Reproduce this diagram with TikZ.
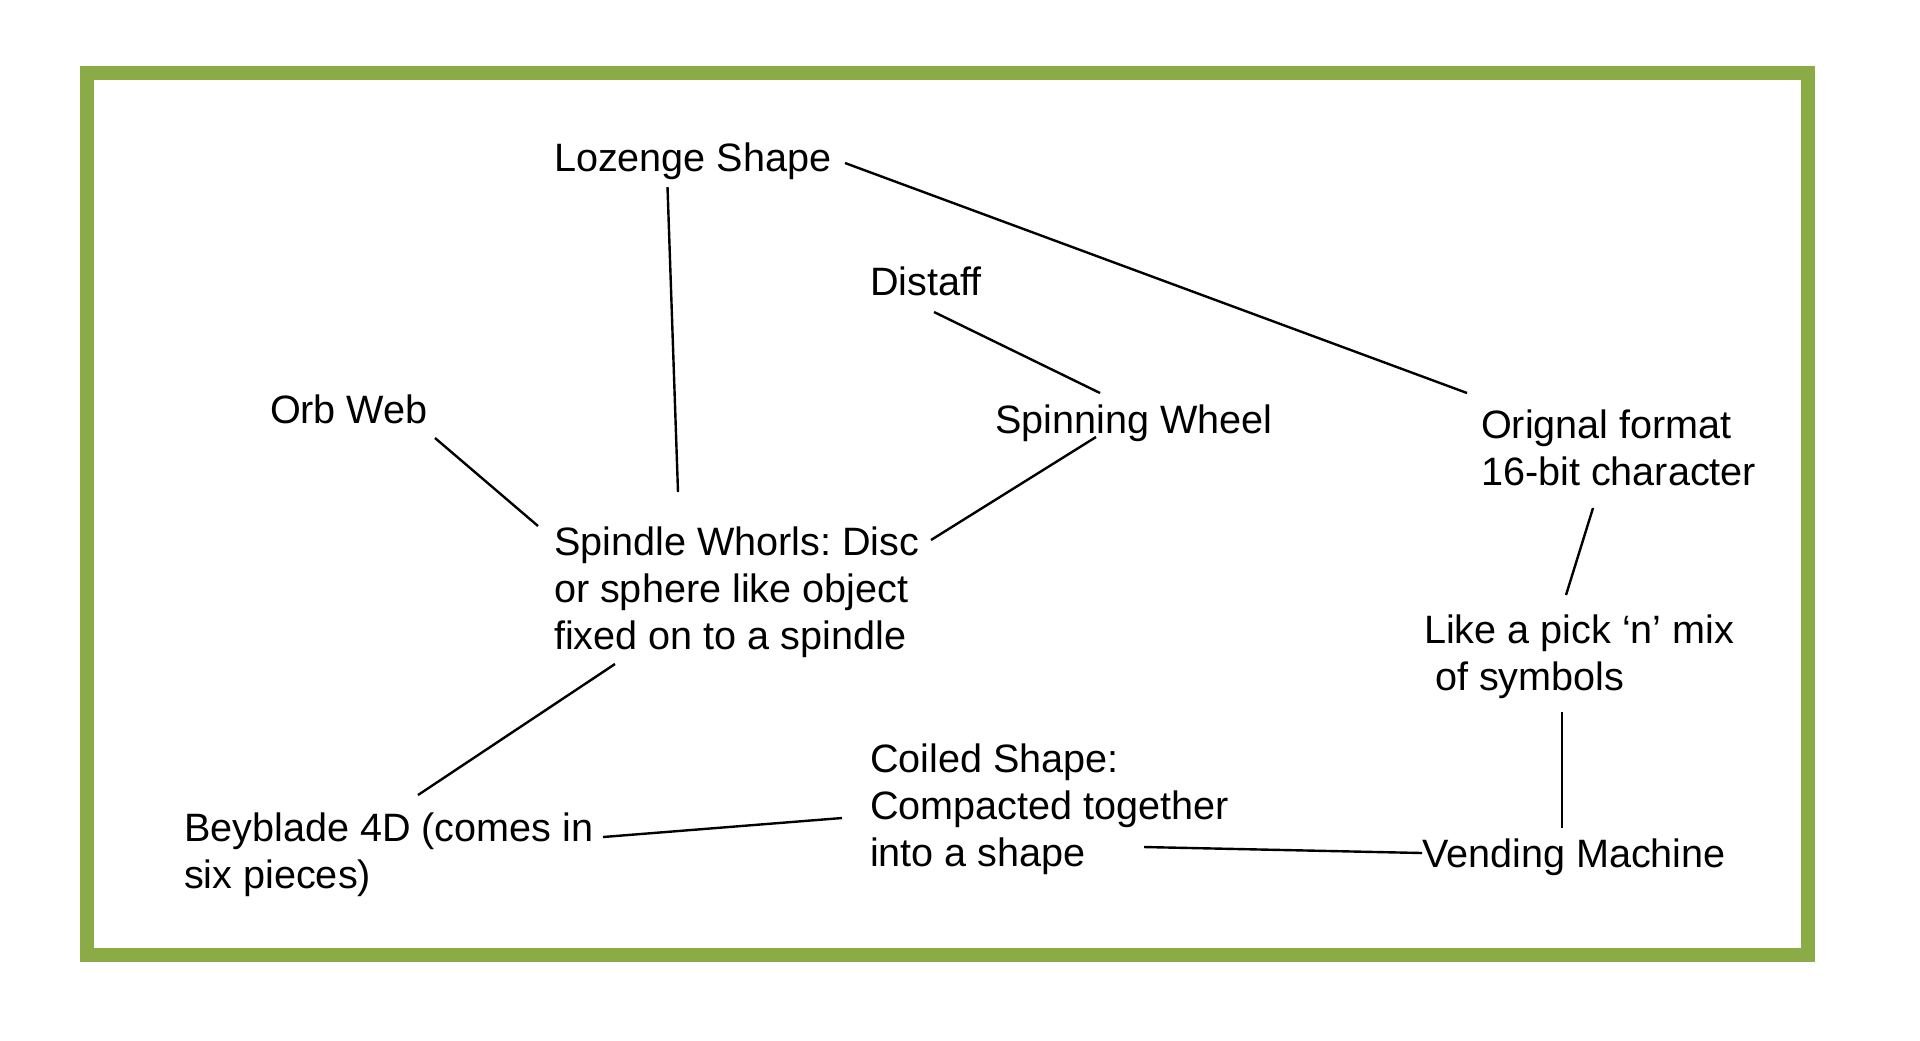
\documentclass[tikz,border=0pt]{standalone}
\usepackage{fontspec}
\setmainfont{Liberation Sans}
\frenchspacing
\definecolor{framegreen}{RGB}{139,171,70}
\newcommand{\mlines}[1]{\vtop{\halign{##\hfil\cr#1\crcr}}}
\tikzset{
  lbl/.style={anchor=base west, inner sep=0pt, outer sep=0pt, font=\fontsize{19.8}{23.5}\selectfont, text=black},
  link/.style={draw=black, line width=1.2pt}
}
\begin{document}
\begin{tikzpicture}[x=0.5pt,y=-0.5pt]
\useasboundingbox (0,0) rectangle (1920,1040);
\fill[white] (0,0) rectangle (1920,1040);
\draw[framegreen, line width=7pt] (87,73) rectangle (1808,955);

\node[lbl] (lozenge) at (554,171) {Lozenge Shape};
\node[lbl] (distaff) at (870,295) {Distaff};
\node[lbl] (orb) at (270,423) {Orb Web};
\node[lbl] (spinning) at (995,433) {Spinning Wheel};
\node[lbl] (orignal) at (1481,438) {\mlines{Orignal format\cr 16-bit character}};
\node[lbl] (whorls) at (554,555) {\mlines{Spindle Whorls: Disc\cr or sphere like object\cr fixed on to a spindle}};
\node[lbl] (pick) at (1424,643) {\mlines{Like a pick ‘n’ mix\cr \ of symbols}};
\node[lbl] (coiled) at (870,772) {\mlines{Coiled Shape:\cr Compacted together\cr into a shape}};
\node[lbl] (beyblade) at (184,841) {\mlines{Beyblade 4D (comes in\cr six pieces)}};
\node[lbl] (vending) at (1422,867) {Vending Machine};

% connector end points
\coordinate (lozA) at (667.5,187);
\coordinate (whoA) at (678,492);
\coordinate (lozB) at (845,163);
\coordinate (oriA) at (1467,393);
\coordinate (disA) at (934,312);
\coordinate (spiA) at (1100,393);
\coordinate (orbA) at (435,438);
\coordinate (whoB) at (538,526);
\coordinate (spiB) at (1096,437);
\coordinate (whoC) at (931,540);
\coordinate (oriB) at (1593,508);
\coordinate (picA) at (1566,595);
\coordinate (picB) at (1562,712);
\coordinate (venA) at (1562,828);
\coordinate (whoD) at (615,664);
\coordinate (beyA) at (418,795);
\coordinate (beyB) at (603,837);
\coordinate (coiA) at (842,818);
\coordinate (coiB) at (1144,847);
\coordinate (venB) at (1422,853);

\draw[link] (lozA) -- (whoA);
\draw[link] (lozB) -- (oriA);
\draw[link] (disA) -- (spiA);
\draw[link] (orbA) -- (whoB);
\draw[link] (spiB) -- (whoC);
\draw[link] (oriB) -- (picA);
\draw[link] (picB) -- (venA);
\draw[link] (whoD) -- (beyA);
\draw[link] (beyB) -- (coiA);
\draw[link] (coiB) -- (venB);
\end{tikzpicture}
\end{document}
